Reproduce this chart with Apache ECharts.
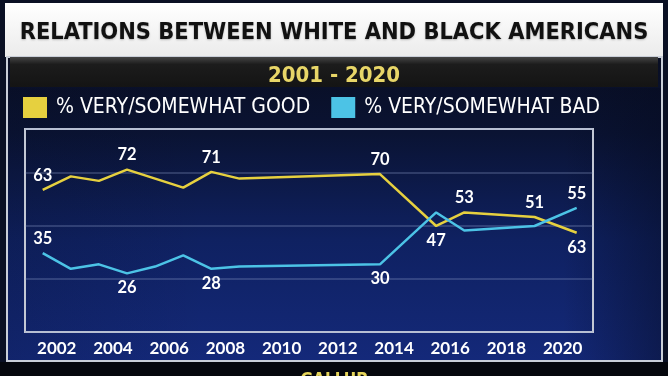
<!DOCTYPE html>
<html>
<head>
<meta charset="utf-8">
<script src="https://cdn.jsdelivr.net/npm/echarts@6/dist/echarts.min.js"></script>
<style>
  html, body { margin: 0; padding: 0; background: #0a1024; }
  #main { width: 668px; height: 376px; }
</style>
</head>
<body>
<div id="main"></div>
<script>
// years of the survey points (x position as drawn)
const years = [2001, 2002, 2003, 2004, 2005, 2006, 2007, 2008, 2013, 2015, 2016, 2018.5, 2020];
// % very/somewhat good
const goodValues = [63, 69, 67, 72, 68, 64, 71, 68, 70, 47, 53, 51, 44];
// % very/somewhat bad
const badValues = [35, 28, 30, 26, 29, 34, 28, 29, 30, 53, 45, 47, 55];
// printed value labels (as on the graphic)
const goodLabels = ["63", "", "", "72", "", "", "71", "", "70", "47", "53", "51", "63"];
const badLabels = ["35", "", "", "26", "", "", "28", "", "30", "", "", "", "55"];
const tickYears = [2002, 2004, 2006, 2008, 2010, 2012, 2014, 2016, 2018, 2020];

const condensed = '"Liberation Sans Narrow", "DejaVu Sans Condensed", "Roboto", sans-serif';
const numFont = 'Lato, "Open Sans", sans-serif';

// labels drawn under the line
const goodBelow = [9, 12];
const badBelow = [3, 6, 8];

function buildData(values, labels, below) {
  return values.map((v, i) => ({
    value: [years[i], v],
    label: {
      show: labels[i] !== "",
      position: below.includes(i) ? "bottom" : "top",
      formatter: labels[i],
    },
  }));
}

const myChart = echarts.init(document.getElementById("main"));

const labelStyle = {
  color: "#ffffff",
  fontSize: 16.5,
  fontWeight: "bold",
  fontFamily: numFont,
  distance: 6,
};

const option = {
  backgroundColor: "#0a1024",
  animation: false,
  graphic: [
    // white header
    {
      type: "rect", z: -10,
      shape: { x: 5, y: 3, width: 658, height: 54 },
      style: {
        fill: new echarts.graphic.LinearGradient(0, 0, 0, 1, [
          { offset: 0, color: "#ffffff" },
          { offset: 1, color: "#ebebeb" },
        ]),
      },
    },
    // chart panel
    {
      type: "rect", z: -10,
      shape: { x: 7, y: 57, width: 655, height: 304 },
      style: {
        fill: new echarts.graphic.LinearGradient(0, 0, 0, 1, [
          { offset: 0, color: "#090e22" },
          { offset: 0.25, color: "#0a1333" },
          { offset: 0.6, color: "#0f2161" },
          { offset: 1, color: "#14297a" },
        ]),
        stroke: "#c9ced8",
        lineWidth: 2,
      },
    },
    // darker right margin of panel
    {
      type: "rect", z: -9,
      shape: { x: 8, y: 88, width: 653, height: 272 },
      style: {
        fill: new echarts.graphic.LinearGradient(0, 0, 1, 0, [
          { offset: 0, color: "rgba(5,10,30,0.15)" },
          { offset: 0.3, color: "rgba(5,10,30,0)" },
          { offset: 0.85, color: "rgba(5,10,30,0)" },
          { offset: 1, color: "rgba(5,10,30,0.45)" },
        ]),
      },
    },
    // dark sub-title bar
    {
      type: "rect", z: -8,
      shape: { x: 10, y: 57, width: 648, height: 30 },
      style: {
        fill: new echarts.graphic.LinearGradient(0, 0, 0, 1, [
          { offset: 0, color: "#444444" },
          { offset: 0.25, color: "#1c1c1c" },
          { offset: 1, color: "#141414" },
        ]),
      },
    },
    // bottom strip
    {
      type: "rect", z: -8,
      shape: { x: 0, y: 362, width: 668, height: 14 },
      style: { fill: "#05070d" },
    },
  ],
  title: [
    {
      text: "RELATIONS BETWEEN WHITE AND BLACK AMERICANS",
      left: "center",
      top: 16,
      textStyle: {
        color: "#111111",
        fontSize: 23.4,
        fontWeight: "bold",
        fontFamily: condensed,
        textShadowColor: "rgba(0,0,0,0.25)",
        textShadowBlur: 2,
        textShadowOffsetY: 1,
      },
    },
    {
      text: "2001 - 2020",
      left: "center",
      top: 60,
      textStyle: { color: "#e8d668", fontSize: 22, fontWeight: "bold", fontFamily: condensed },
    },
    {
      text: "GALLUP",
      left: "center",
      top: 367,
      textStyle: { color: "#e6d55a", fontSize: 17, fontWeight: "bold", fontFamily: condensed },
    },
  ],
  legend: {
    left: 23,
    top: 97,
    padding: 0,
    itemWidth: 24,
    itemHeight: 21,
    itemGap: 21,
    icon: "rect",
    textStyle: { color: "#ffffff", fontSize: 21, fontFamily: condensed, padding: [0, 0, 0, 4] },
    data: ["% VERY/SOMEWHAT GOOD", "% VERY/SOMEWHAT BAD"],
  },
  grid: {
    left: 25,
    right: 75,
    top: 129,
    bottom: 44,
    show: true,
    borderColor: "#c3c8d4",
    borderWidth: 2,
    backgroundColor: "transparent",
  },
  xAxis: [
    {
      type: "value",
      min: 2000.37,
      max: 2020.58,
      show: false,
    },
    {
      type: "value",
      position: "bottom",
      min: 2000.87,
      max: 2021.08,
      axisLine: { show: false },
      axisTick: { show: false },
      splitLine: { show: false },
      axisLabel: {
        customValues: tickYears,
        formatter: (v) => String(v),
        color: "#ffffff",
        fontSize: 17,
        fontWeight: "bold",
        fontFamily: numFont,
        margin: 8,
      },
    },
  ],
  yAxis: {
    type: "value",
    min: 0,
    max: 90,
    interval: 23.5,
    axisLine: { show: false },
    axisTick: { show: false },
    axisLabel: { show: false },
    splitLine: { lineStyle: { color: "rgba(150,165,210,0.35)", width: 1.5 } },
  },
  series: [
    {
      name: "% VERY/SOMEWHAT GOOD",
      type: "line",
      xAxisIndex: 0,
      symbol: "circle",
      symbolSize: 0.1,
      showSymbol: true,
      color: "#e6d03f",
      lineStyle: { color: "#e6d03f", width: 2.5 },
      label: labelStyle,
      data: buildData(goodValues, goodLabels, goodBelow),
    },
    {
      name: "% VERY/SOMEWHAT BAD",
      type: "line",
      xAxisIndex: 0,
      symbol: "circle",
      symbolSize: 0.1,
      showSymbol: true,
      color: "#4cc3e6",
      lineStyle: { color: "#4cc3e6", width: 2.5 },
      label: labelStyle,
      data: buildData(badValues, badLabels, badBelow),
    },
  ],
};

myChart.setOption(option);
</script>
</body>
</html>
